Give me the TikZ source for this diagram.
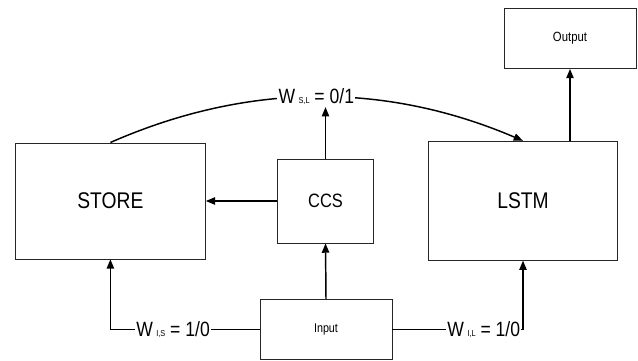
\documentclass[tikz,border=0pt]{standalone}
\usepackage{fontspec}
\setmainfont[FakeStretch=0.85]{Liberation Sans}
\usetikzlibrary{arrows.meta}
\begin{document}
\begin{tikzpicture}[x=0.75pt,y=-0.75pt,
  box/.style={draw=black!85,line width=0.6pt,inner sep=0pt},
  conn/.style={line width=1.1pt,-{Triangle[length=7pt,width=5.5pt]}},
  wire/.style={line width=1.1pt},
  wlab/.style={fill=white,inner sep=1pt,font=\fontsize{15.5}{18}\selectfont}]
\useasboundingbox (0,0) rectangle (638,360);
\node[box,minimum width=190*0.75pt,minimum height=116*0.75pt,font=\fontsize{17}{20}\selectfont] (store) at (110.4,200.9) {STORE};
\node[box,minimum width=96*0.75pt,minimum height=84*0.75pt,font=\fontsize{14.5}{17}\selectfont] (ccs) at (325.5,201) {CCS};
\node[box,minimum width=189*0.75pt,minimum height=119*0.75pt,font=\fontsize{17}{20}\selectfont] (lstm) at (523,200.7) {LSTM};
\node[box,minimum width=132*0.75pt,minimum height=60*0.75pt,font=\fontsize{10}{12}\selectfont] (output) at (570,38.5) {Output};
\node[box,minimum width=132*0.75pt,minimum height=60*0.75pt,font=\fontsize{9.5}{11}\selectfont] (input) at (326,329.5) {Input};
% arc store -> lstm
\draw[conn] (store.north) .. controls (247.3,82.4) and (385,81.8) .. node[wlab,pos=0.5] (slab) {W\,{\fontsize{6.5}{7}\selectfont S,L} = 0/1} (lstm.north);
% ccs up to label
\draw[conn] (ccs.north) -- (ccs.north |- slab.south);
% ccs -> store
\draw[conn] (ccs.west) -- (ccs.west -| store.east);
% input -> ccs
\draw[conn] (input.north) -- (ccs.south);
% lstm -> output
\draw[conn] (output.south |- lstm.north) -- (output.south);
% input -> store
\coordinate (cl) at (110.4,329.5);
\draw[wire] (input.west) -- node[wlab,pos=0.58] {W\,{\fontsize{6.5}{7}\selectfont I,S} = 1/0} (cl);
\draw[conn] (cl) -- (store.south);
% input -> lstm
\coordinate (cr) at (523,329.5);
\draw[conn] (input.east) -- node[wlab,pos=0.70] {W\,{\fontsize{6.5}{7}\selectfont I,L} = 1/0} (cr) -- (lstm.south);
\end{tikzpicture}
\end{document}
